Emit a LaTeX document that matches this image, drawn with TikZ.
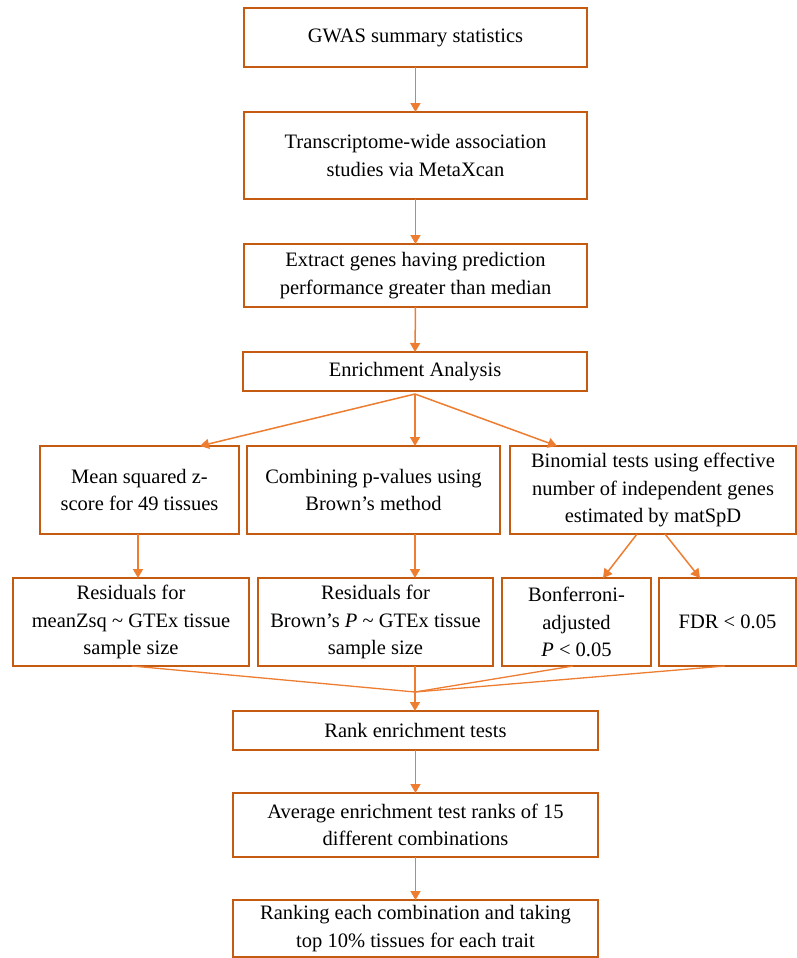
\documentclass[tikz,border=0pt]{standalone}
\usepackage{fontspec}
\setmainfont{Liberation Serif}
\usetikzlibrary{arrows.meta}
\definecolor{boxc}{HTML}{C55A11}
\definecolor{arrc}{HTML}{ED7D31}
\begin{document}
\begin{tikzpicture}[x=1pt,y=-1pt,
  box/.style={draw=boxc,line width=2pt,rectangle,inner sep=0pt,outer sep=0pt,align=center,
    font=\fontsize{20.5}{27.5}\selectfont},
  arr/.style={draw=arrc,line width=1.5pt,-{Triangle[width=10pt,length=9pt]}},
  conn/.style={draw=arrc,line width=1.3pt}]
\useasboundingbox (0,0) rectangle (797,958);
\node[box,minimum width=343pt,minimum height=59pt] (gwas) at (415.5,37.5) {GWAS summary statistics};
\node[box,minimum width=343pt,minimum height=87pt] (tw) at (415.5,155.5) {Transcriptome-wide association\\studies via MetaXcan};
\node[box,minimum width=343pt,minimum height=63pt] (ext) at (415.5,275.5) {Extract genes having prediction\\performance greater than median};
\node[box,minimum width=344pt,minimum height=39pt] (enr) at (415,371.5) {Enrichment Analysis};
\node[box,minimum width=199pt,minimum height=88pt] (mean) at (139.5,490) {Mean squared z-\\score for 49 tissues};
\node[box,minimum width=253pt,minimum height=88pt] (comb) at (373.5,490) {Combining p-values using\\Brown's method};
\node[box,minimum width=286pt,minimum height=88pt] (binom) at (653,490) {Binomial tests using effective\\number of independent genes\\estimated by matSpD};
\node[box,minimum width=236pt,minimum height=88pt] (res1) at (131,622) {Residuals for\\meanZsq \textasciitilde{} GTEx tissue\\sample size};
\node[box,minimum width=235pt,minimum height=88pt] (res2) at (375.5,622) {Residuals for\\Brown's \textit{P} \textasciitilde{} GTEx tissue\\sample size};
\node[box,minimum width=149pt,minimum height=88pt] (bonf) at (576.5,622) {Bonferroni-\\adjusted\\\textit{P} < 0.05};
\node[box,minimum width=137pt,minimum height=88pt] (fdr) at (727.5,622) {FDR < 0.05};
\node[box,minimum width=365pt,minimum height=39pt] (rank) at (415.5,730.5) {Rank enrichment tests};
\node[box,minimum width=365pt,minimum height=64pt] (avg) at (415.5,825) {Average enrichment test ranks of 15\\different combinations};
\node[box,minimum width=365pt,minimum height=57pt] (rnk) at (415.5,928.5) {Ranking each combination and taking\\top 10\% tissues for each trait};
% connectors
\draw[arr] (gwas.south) -- (tw.north);
\draw[arr] (tw.south) -- (ext.north);
\draw[arr] (ext.south) -- (enr.north);
\coordinate (es) at (415,394);
\draw[arr] (es) -- (200,0 |- mean.north);
\draw[arr] (es) -- (415,0 |- comb.north);
\draw[arr] (es) -- (557,0 |- binom.north);
\draw[arr] (138,0 |- mean.south) -- (138,0 |- res1.north);
\draw[arr] (415,0 |- comb.south) -- (415,0 |- res2.north);
\draw[arr] (637,0 |- binom.south) -- (603,0 |- bonf.north);
\draw[arr] (665,0 |- binom.south) -- (700,0 |- fdr.north);
\coordinate (cv) at (415,692);
\draw[conn] (132,0 |- res1.south) -- (cv);
\draw[conn] (573,0 |- bonf.south) -- (cv);
\draw[conn] (725,0 |- fdr.south) -- (cv);
\draw[conn] (415,0 |- res2.south) -- (cv);
\draw[arr] (cv) -- (cv |- rank.north);
\draw[arr] (rank.south) -- (avg.north);
\draw[arr] (avg.south) -- (rnk.north);
\end{tikzpicture}
\end{document}
